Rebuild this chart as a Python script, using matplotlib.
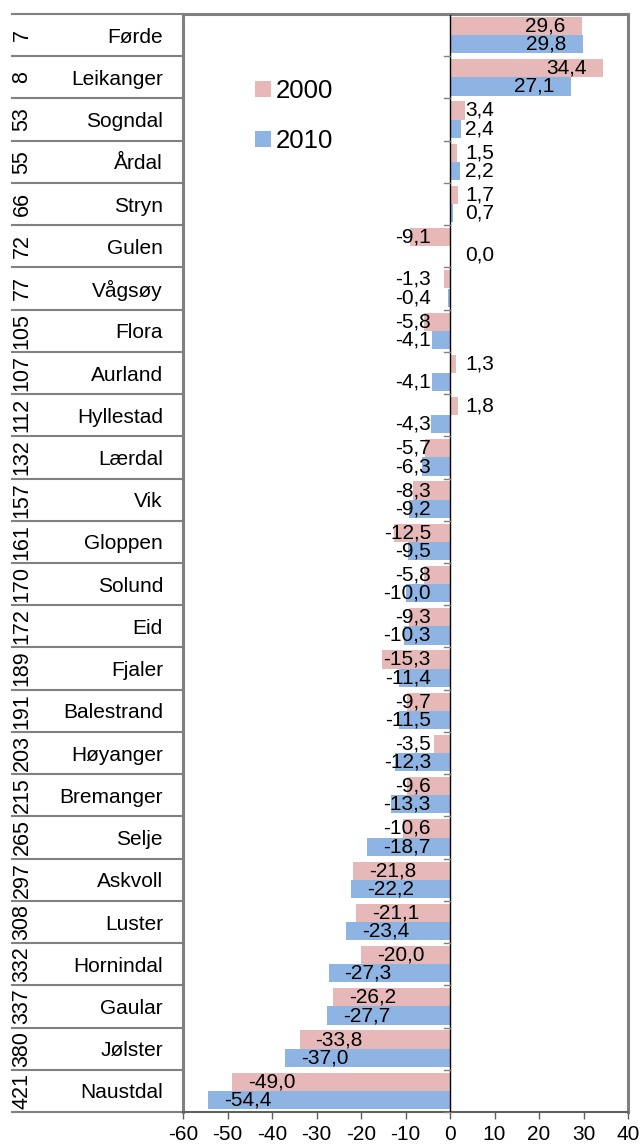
import matplotlib
matplotlib.use("Agg")
import matplotlib.pyplot as plt
import numpy as np

plt.rcParams['font.family'] = ['Liberation Sans', 'DejaVu Sans']

names = ["Førde", "Leikanger", "Sogndal", "Årdal", "Stryn", "Gulen", "Vågsøy", "Flora",
         "Aurland", "Hyllestad", "Lærdal", "Vik", "Gloppen", "Solund", "Eid", "Fjaler",
         "Balestrand", "Høyanger", "Bremanger", "Selje", "Askvoll", "Luster", "Hornindal",
         "Gaular", "Jølster", "Naustdal"]
ranks = [7, 8, 53, 55, 66, 72, 77, 105, 107, 112, 132, 157, 161, 170, 172, 189, 191,
         203, 215, 265, 297, 308, 332, 337, 380, 421]
v2000 = [29.6, 34.4, 3.4, 1.5, 1.7, -9.1, -1.3, -5.8, 1.3, 1.8, -5.7, -8.3, -12.5, -5.8,
         -9.3, -15.3, -9.7, -3.5, -9.6, -10.6, -21.8, -21.1, -20.0, -26.2, -33.8, -49.0]
v2010 = [29.8, 27.1, 2.4, 2.2, 0.7, 0.0, -0.4, -4.1, -4.1, -4.3, -6.3, -9.2, -9.5, -10.0,
         -10.3, -11.4, -11.5, -12.3, -13.3, -18.7, -22.2, -23.4, -27.3, -27.7, -37.0, -54.4]
series_labels = ["2000", "2010"]
xticks = [-60, -50, -40, -30, -20, -10, 0, 10, 20, 30, 40]

c2000 = "#E6B9B8"
c2010 = "#8EB4E3"
grey = "#808080"

fig = plt.figure(figsize=(6.41, 11.45), dpi=100)
L, R, T, B = 183, 628, 14, 1112
ax = fig.add_axes([L / 641, 1 - B / 1145, (R - L) / 641, (B - T) / 1145])

n = len(names)
y = np.arange(n)
h = 0.43
ax.barh(y - 0.215, v2000, height=h, color=c2000, label=series_labels[0], zorder=2)
ax.barh(y + 0.215, v2010, height=h, color=c2010, label=series_labels[1], zorder=2)

ax.set_xlim(-60, 40)
ax.set_ylim(n - 0.5, -0.5)

# zero axis line and category ticks
ax.axvline(0, color="black", lw=1.0, zorder=3)
for b in np.arange(n + 1) - 0.5:
    ax.plot([-1.3, 0], [b, b], color=grey, lw=1.0, zorder=3, clip_on=False)

# spines
for s in ["left", "top", "right"]:
    ax.spines[s].set_color(grey)
    ax.spines[s].set_linewidth(2.2)
ax.spines["bottom"].set_color("#606060")
ax.spines["bottom"].set_linewidth(1.5)
ax.set_yticks([])
ax.set_xticks(xticks)
ax.set_xticklabels([str(t) for t in xticks], fontsize=15)
ax.tick_params(axis="x", length=5, width=1, color="#606060", pad=4)

# left table
yt = ax.get_yaxis_transform()
x_left = (12 - L) / (R - L)
for b in np.arange(n + 1) - 0.5:
    ax.plot([x_left, 0], [b, b], transform=yt, color=grey, lw=1.5, clip_on=False, zorder=1)
for i in range(n):
    ax.text((163 - L) / (R - L), i + 0.05, names[i], transform=yt, ha="right", va="center",
            fontsize=15, clip_on=False)
    ax.text((22 - L) / (R - L), i, str(ranks[i]), transform=yt, ha="center", va="center",
            rotation=90, fontsize=15.5, clip_on=False)

# data labels
fig.canvas.draw()
renderer = fig.canvas.get_renderer()
px_per_unit = (ax.transData.transform((1, 0))[0] - ax.transData.transform((0, 0))[0])
pad = 16 / px_per_unit
neg_clamp = -19 / px_per_unit
pos_clamp = 15 / px_per_unit


def fmt(v):
    return f"{v:.1f}".replace(".", ",")


for vals, off in [(v2000, -0.215), (v2010, 0.215)]:
    for i, v in enumerate(vals):
        t = ax.text(0, i + off, fmt(v), fontsize=15, va="center", ha="left", zorder=4)
        w = t.get_window_extent(renderer).width / px_per_unit
        if v >= 0:
            right = v - pad
            if right - w < pos_clamp:
                t.set_x(pos_clamp)
                t.set_ha("left")
            else:
                t.set_x(right)
                t.set_ha("right")
        else:
            left = v + pad
            if left + w > neg_clamp:
                t.set_x(neg_clamp)
                t.set_ha("right")
            else:
                t.set_x(left)
                t.set_ha("left")

# legend
leg = fig.legend(loc="upper left", bbox_to_anchor=(232 / 641, 1 - 56 / 1145), frameon=False,
                 fontsize=18.5, handlelength=0.6, handleheight=0.6, handletextpad=0.2,
                 labelspacing=1.0)

fig.savefig("out.png", dpi=100)
